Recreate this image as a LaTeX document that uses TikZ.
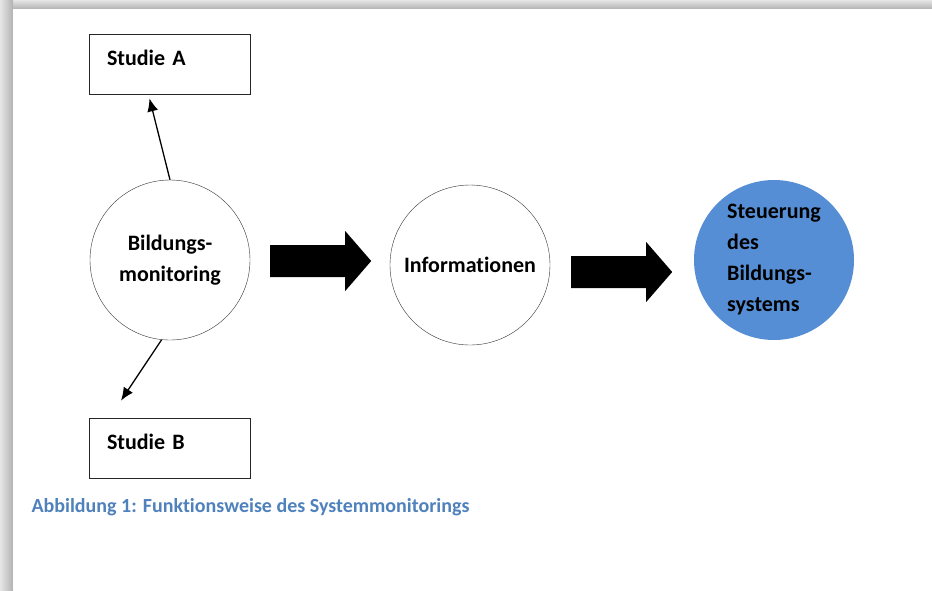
\documentclass[tikz,border=0pt]{standalone}
\usepackage{fontspec}
\setmainfont[Ligatures=NoCommon]{Carlito}
\usetikzlibrary{arrows.meta,positioning}
\definecolor{steuerblau}{RGB}{85,142,213}
\definecolor{captionblau}{RGB}{79,129,189}
\tikzset{
    %Define standard arrow tip
    >={Latex[length=13pt,width=11pt]},
    kreis/.style={
      circle,
      draw=black!80, thin,
      minimum size=160pt,
      inner sep=0pt,
      font=\bfseries\fontsize{22}{31}\selectfont,
      align=center},
    studie/.style={
      rectangle,
      draw=black!85, thick,
      minimum width=161pt,
      minimum height=60pt,
      text width=125pt,
      text depth=12pt,
      align=left,
      font=\bfseries\fontsize{22}{26}\selectfont},
    blockpfeil/.pic={
      \fill (0,-16) -- (75,-16) -- (75,-30) -- (101,0)
            -- (75,30) -- (75,16) -- (0,16) -- cycle;},
}

\begin{document}
\begin{tikzpicture}[x=1pt,y=-1pt]
    \useasboundingbox (0,0) rectangle (932,590);
    % page shadow
    \shade[top color=gray!20, bottom color=gray!60] (0,0) rectangle (932,9);
    \shade[left color=gray!20, right color=gray!60] (0,0) rectangle (13,590);
    \fill[white] (13,9) rectangle (932,590);

    \node (mon) [kreis] at (170,260)
          {Bildungs-\\monitoring};
    \node (info) [kreis] at (470,265)
          {Informationen};
    \node (steuer) [kreis, fill=steuerblau, draw=none, align=left] at (774,260)
          {Steuerung\\des\\Bildungs-\\systems};

    \node (studA) [studie] at (169.5,64)
          {Studie A};
    \node (studB) [studie] at (169.5,448)
          {Studie B};

    % block arrows between the circles
    \coordinate (pfeil1) at ([xshift=20pt,yshift=-1pt]mon.east);
    \coordinate (pfeil2) at ([xshift=21pt,yshift=-7pt]info.east);
    \pic at (pfeil1) {blockpfeil};
    \pic at (pfeil2) {blockpfeil};

    \draw [->, line width=1.3pt] (mon.north) -- ([xshift=-20pt,yshift=-4pt]studA.south);
    \draw [->, line width=1.3pt] (mon.-96) -- ([xshift=-48.5pt,yshift=17pt]studB.north);

    \node (caption) [anchor=west, text=captionblau, font=\bfseries\fontsize{20}{24}\selectfont]
          at (28,507) {Abbildung 1: Funktionsweise des Systemmonitorings};
\end{tikzpicture}
\end{document}
